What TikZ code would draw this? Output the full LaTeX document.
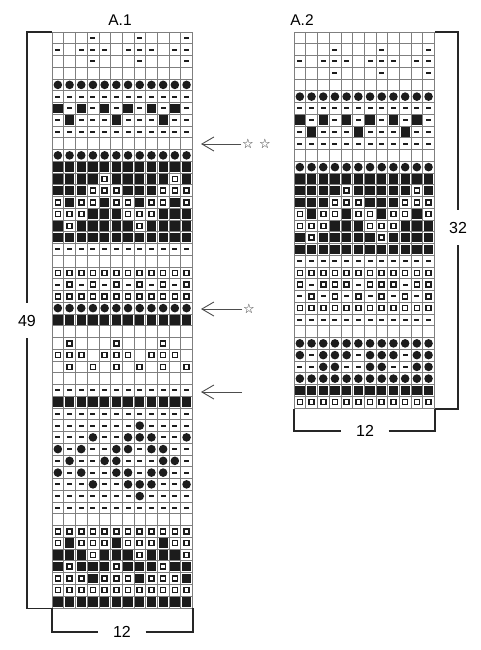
\documentclass[tikz,border=0pt]{standalone}
\usepackage{fontspec}
\setmainfont{Liberation Sans}
\newfontfamily\symfont{DejaVu Sans}
\usepackage{xcolor}
\definecolor{cGrid}{HTML}{7F7F7F}
\definecolor{cInk}{HTML}{1C1C1C}
\definecolor{cArrow}{HTML}{4D4D4D}
\usetikzlibrary{positioning,arrows.meta}
\tikzset{
  cell-line/.style={draw=cGrid,line width=0.6pt},
  chart-frame/.style={draw=cGrid,line width=0.7pt,inner sep=0pt,anchor=north west},
  sym-dash/.style={fill=cInk,minimum width=5pt,minimum height=1.8pt,inner sep=0pt},
  sym-full/.style={fill=cInk,minimum width=9.3pt,minimum height=9.3pt,inner sep=0pt},
  sym-dot/.style={circle,fill=cInk,minimum size=8.6pt,inner sep=0pt},
  sym-ring/.style={draw=cInk,line width=1.6pt,fill=white,minimum size=5pt,inner sep=0pt},
  bracket/.style={draw=black!85,line width=1.8pt},
  num-label/.style={font=\fontsize{16}{18}\selectfont,inner sep=0pt,minimum height=35pt},
  chart-title/.style={font=\fontsize{15.5}{18}\selectfont,inner sep=0pt},
  star-mark/.style={font=\symfont\fontsize{13}{13}\selectfont,text=black!85,inner sep=0.5pt},
  arrow/.style={-{Straight Barb[length=12pt,width=14pt]},draw=cArrow,line width=0.9pt},
}
% one cell = 11.7 x 11.75, codes: . empty, d dash, f full, c dot, r ring
\newcommand\cw{11.7}
\newcommand\ch{11.75}
\newcommand\rowsAone{%
  {.,.,.,d,.,.,.,d,.,.,.,d},{d,.,d,d,d,.,d,d,d,.,d,d},{.,.,.,d,.,.,.,d,.,.,.,d},
  {.,.,.,.,.,.,.,.,.,.,.,.},{c,c,c,c,c,c,c,c,c,c,c,c},{d,d,d,d,d,d,d,d,d,d,d,d},
  {f,d,f,d,f,d,f,d,f,d,f,d},{d,f,d,d,d,f,d,d,d,f,d,d},{d,d,d,d,d,d,d,d,d,d,d,d},
  {.,.,.,.,.,.,.,.,.,.,.,.},{c,c,c,c,c,c,c,c,c,c,c,c},{f,f,f,f,f,f,f,f,f,f,f,f},
  {f,f,f,f,r,f,f,f,f,f,r,f},{f,f,f,r,r,r,f,f,f,r,r,r},{r,f,r,r,f,r,r,f,r,r,f,r},
  {r,r,r,f,f,f,r,r,r,f,f,f},{f,r,f,f,f,f,f,r,f,f,f,f},{f,f,f,f,f,f,f,f,f,f,f,f},
  {d,d,d,d,d,d,d,d,d,d,d,d},{.,.,.,.,.,.,.,.,.,.,.,.},{r,r,r,r,r,r,r,r,r,r,r,r},
  {d,r,d,r,d,r,d,r,d,r,d,r},{r,r,r,r,r,r,r,r,r,r,r,r},{c,c,c,c,c,c,c,c,c,c,c,c},
  {f,f,f,f,f,f,f,f,f,f,f,f},{.,.,.,.,.,.,.,.,.,.,.,.},{.,r,.,.,.,r,.,.,.,r,.,.},
  {r,r,r,.,r,r,r,.,r,r,r,.},{.,r,.,r,.,r,.,r,.,r,.,r},{.,.,.,.,.,.,.,.,.,.,.,.},
  {d,d,d,d,d,d,d,d,d,d,d,d},{f,f,f,f,f,f,f,f,f,f,f,f},{d,d,d,d,d,d,d,d,d,d,d,d},
  {d,d,d,d,d,d,d,c,d,d,d,d},{d,d,d,c,d,d,c,c,c,d,d,c},{c,d,c,d,d,c,c,d,c,c,d,d},
  {d,c,d,d,c,c,d,d,d,c,c,d},{c,d,c,d,d,c,c,d,c,c,d,d},{d,d,d,c,d,d,c,c,c,d,d,c},
  {d,d,d,d,d,d,d,c,d,d,d,d},{d,d,d,d,d,d,d,d,d,d,d,d},{.,.,.,.,.,.,.,.,.,.,.,.},
  {r,r,r,r,r,r,r,r,r,r,r,r},{r,f,r,r,r,f,r,r,r,f,r,r},{f,f,f,r,f,f,f,r,f,f,f,r},
  {f,r,f,f,f,r,f,f,f,r,f,f},{r,r,r,f,r,r,r,f,r,r,r,f},{r,r,r,r,r,r,r,r,r,r,r,r},
  {f,f,f,f,f,f,f,f,f,f,f,f}}
\newcommand\rowsAtwo{%
  {.,.,.,.,.,.,.,.,.,.,.,.},{.,.,.,d,.,.,.,d,.,.,.,d},{d,.,d,d,d,.,d,d,d,.,d,d},
  {.,.,.,d,.,.,.,d,.,.,.,d},{.,.,.,.,.,.,.,.,.,.,.,.},{c,c,c,c,c,c,c,c,c,c,c,c},
  {d,d,d,d,d,d,d,d,d,d,d,d},{f,d,f,d,f,d,f,d,f,d,f,d},{d,f,d,d,d,f,d,d,d,f,d,d},
  {d,d,d,d,d,d,d,d,d,d,d,d},{.,.,.,.,.,.,.,.,.,.,.,.},{c,c,c,c,c,c,c,c,c,c,c,c},
  {f,f,f,f,f,f,f,f,f,f,f,f},{f,f,f,f,r,f,f,f,f,f,r,f},{f,f,f,r,r,r,f,f,f,r,r,r},
  {r,f,r,r,f,r,r,f,r,r,f,r},{r,r,r,f,f,f,r,r,r,f,f,f},{f,r,f,f,f,f,f,r,f,f,f,f},
  {f,f,f,f,f,f,f,f,f,f,f,f},{d,d,d,d,d,d,d,d,d,d,d,d},{r,r,r,r,r,r,r,r,r,r,r,r},
  {r,d,r,r,r,d,r,r,r,d,r,r},{d,r,d,r,d,r,d,r,d,r,d,r},{r,r,r,r,r,r,r,r,r,r,r,r},
  {d,d,d,d,d,d,d,d,d,d,d,d},{.,.,.,.,.,.,.,.,.,.,.,.},{c,c,c,c,c,c,c,c,c,c,c,c},
  {c,d,c,c,c,d,c,c,c,d,c,c},{d,d,c,c,d,d,c,c,d,d,c,c},{c,c,c,c,c,c,c,c,c,c,c,c},
  {f,f,f,f,f,f,f,f,f,f,f,f},{r,r,r,r,r,r,r,r,r,r,r,r}}
% #1 name, #2 left, #3 top, #4 rows, #5 number of rows
\newcommand\drawchart[5]{%
  \node[chart-frame,minimum width=12*\cw pt,minimum height=#5*\ch pt] (#1) at (#2,#3) {};
  \foreach \ci in {1,...,11}
    \draw[cell-line] ({#2+\ci*\cw},#3) -- ({#2+\ci*\cw},{#3+#5*\ch});
  \foreach \ri in {1,...,\numexpr#5-1\relax}
    \draw[cell-line] (#2,{#3+\ri*\ch}) -- ({#2+12*\cw},{#3+\ri*\ch});
  \foreach \row [count=\rownum] in #4 {
    \foreach \s [count=\colnum] in \row {
      \if d\s \node[sym-dash] (#1-\rownum-\colnum) at ({#2+(\colnum-0.5)*\cw},{#3+(\rownum-0.5)*\ch}) {};\fi
      \if f\s \node[sym-full] (#1-\rownum-\colnum) at ({#2+(\colnum-0.5)*\cw},{#3+(\rownum-0.5)*\ch}) {};\fi
      \if c\s \node[sym-dot]  (#1-\rownum-\colnum) at ({#2+(\colnum-0.5)*\cw},{#3+(\rownum-0.5)*\ch}) {};\fi
      \if r\s \node[sym-ring] (#1-\rownum-\colnum) at ({#2+(\colnum-0.5)*\cw},{#3+(\rownum-0.5)*\ch}) {};\fi
    }
  }%
}

\begin{document}
\begin{tikzpicture}[x=1pt,y=-1pt]
  \useasboundingbox (0,0) rectangle (481,650);
  \drawchart{A1}{52}{32}{\rowsAone}{49}
  \drawchart{A2}{294}{32}{\rowsAtwo}{32}

  % titles
  \node[chart-title] (title1) at (120,20.5) {A.1};
  \node[chart-title] (title2) at (302,20.5) {A.2};

  % row and stitch counts
  \node[num-label] (rows1) at (27,320.5) {49};
  \draw[bracket] (A1.north west) -| (rows1.north);
  \draw[bracket] (rows1.south) |- (A1.south west);
  \node[num-label,minimum width=47pt] (sts1) at (122,632) {12};
  \draw[bracket] (A1.south west) |- (sts1.west);
  \draw[bracket] (sts1.east) -| (A1.south east);

  \node[num-label] (rows2) at (458,227.5) {32};
  \draw[bracket] (A2.north east) -| (rows2.north);
  \draw[bracket] (rows2.south) |- (A2.south east);
  \node[num-label,minimum width=47pt] (sts2) at (365,431) {12};
  \draw[bracket] (A2.south west) |- (sts2.west);
  \draw[bracket] (sts2.east) -| (A2.south east);

  % arrows
  \node[star-mark] (star1a) at (248,144) {☆};
  \node[star-mark] (star1b) at (265,144) {☆};
  \coordinate (tip1) at (201,144);
  \draw[arrow] (star1a.west) -- (tip1);
  \node[star-mark] (star2) at (249,309) {☆};
  \coordinate (tip2) at (201,309);
  \draw[arrow] (star2.west) -- (tip2);
  \coordinate (tail3) at (242,392);
  \coordinate (tip3) at (201,392);
  \draw[arrow] (tail3) -- (tip3);
\end{tikzpicture}
\end{document}
